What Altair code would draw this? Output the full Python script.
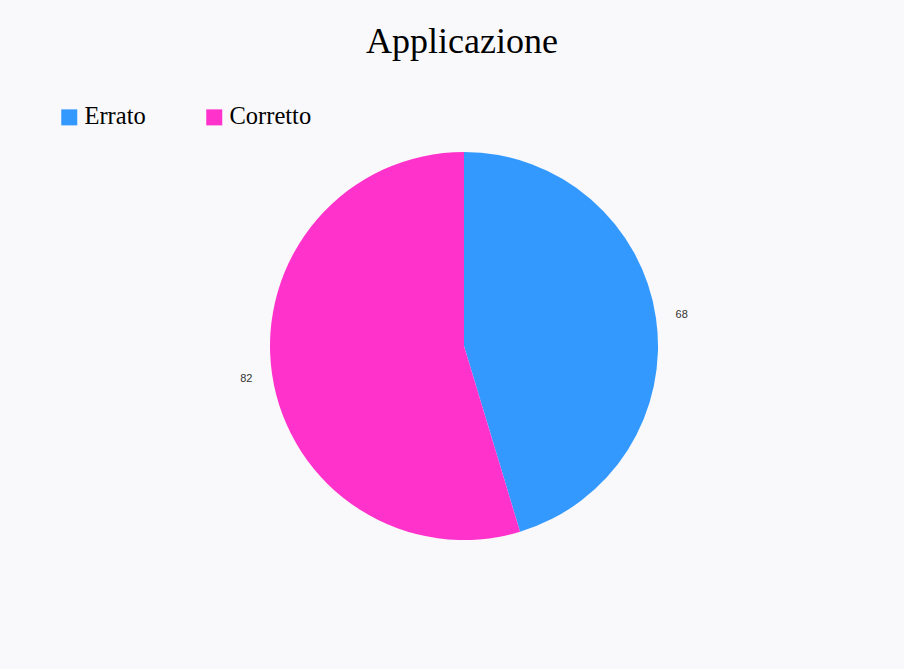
import altair as alt
import pandas as pd

categories = ["Errato", "Corretto"]
values = [68, 82]
colors = ["#3399FF", "#FF33CC"]
order = [0, 1]
title_text = ["Applicazione"]

df = pd.DataFrame({"categoria": categories, "valore": values, "ordine": order})
df_title = pd.DataFrame({"t": title_text})

CX, CY = 464, 346

base = alt.Chart(df).encode(
    theta=alt.Theta("valore:Q", stack=True),
    order=alt.Order("ordine:Q"),
)

pie = base.mark_arc(radius=194).encode(
    color=alt.Color(
        "categoria:N",
        scale=alt.Scale(domain=categories, range=colors),
        legend=alt.Legend(
            title=None,
            orient="none",
            legendX=57,
            legendY=105,
            direction="horizontal",
            symbolType="square",
            symbolSize=256,
            symbolStrokeWidth=0,
            symbolOpacity=1,
            labelFont="Liberation Serif",
            labelFontSize=24.5,
            labelColor="black",
            labelOffset=3,
            columnPadding=56,
        ),
    ),
    x=alt.value(CX),
    y=alt.value(CY),
)

labels = base.mark_text(
    radius=220, font="Liberation Sans", fontSize=11, color="#333333"
).encode(
    text=alt.Text("valore:Q"),
    x=alt.value(CX),
    y=alt.value(CY + 1),
)

title = alt.Chart(df_title).mark_text(
    font="Liberation Serif", fontSize=36, color="black", baseline="middle", align="center"
).encode(
    text="t:N",
    x=alt.value(462),
    y=alt.value(42),
)

chart = alt.layer(pie, labels, title).properties(
    width=904,
    height=669,
    autosize=alt.AutoSizeParams(type="none"),
    padding=0,
    background="#f9f9fb",
).configure_view(stroke=None)

chart.save("out.html", embed_options={"renderer": "svg", "actions": False})
